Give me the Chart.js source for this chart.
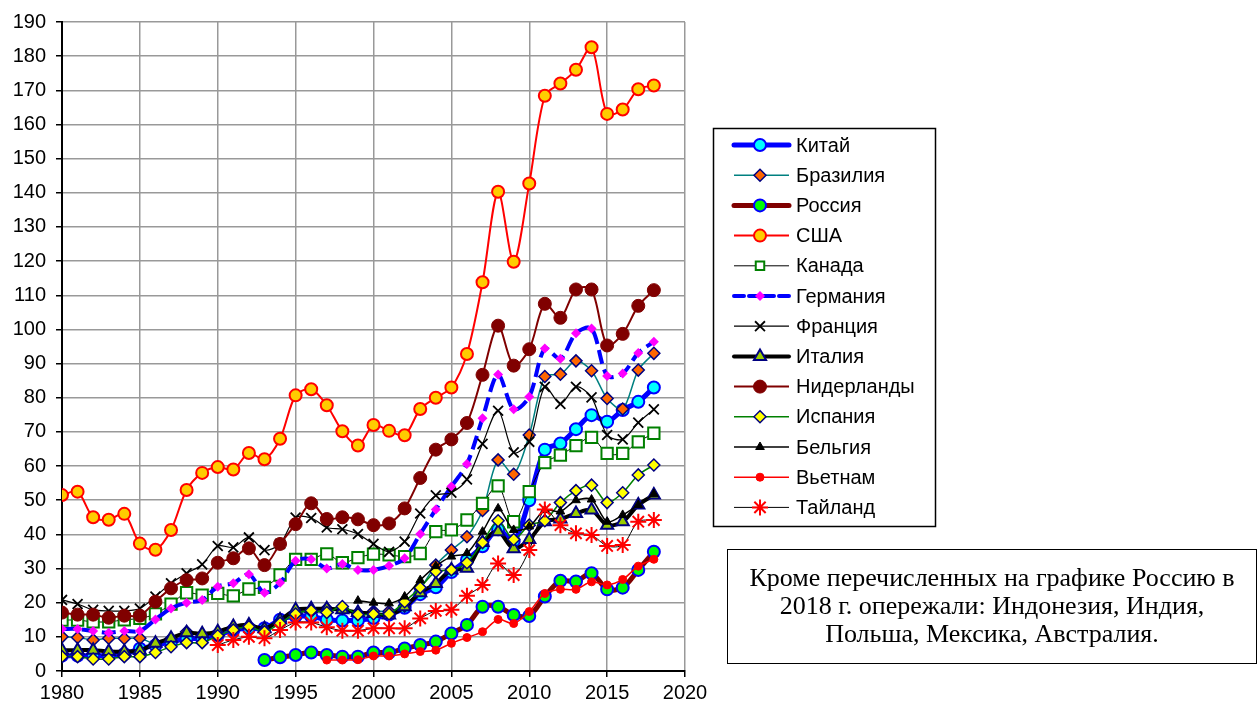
<!DOCTYPE html>
<html lang="ru">
<head>
<meta charset="utf-8">
<title>Страны</title>
<script src="https://cdn.jsdelivr.net/npm/chart.js@4.4.1/dist/chart.umd.min.js"></script>
<style>
  body { margin: 0; background: #fff; }
  #wrap { position: relative; width: 1258px; height: 704px; }
  #note {
    position: absolute; left: 727px; top: 549px; width: 530px; height: 115px;
    border: 1.5px solid #000; box-sizing: border-box; padding-top: 14px;
    font: 26px "Liberation Serif", "Times New Roman", serif; line-height: 28px;
    text-align: center; color: #000; white-space: nowrap;
  }
</style>
</head>
<body>
<div id="wrap">
  <canvas id="grafico" width="1258" height="704"></canvas>
  <div id="note">Кроме перечисленных на графике Россию в<br>2018 г. опережали: Индонезия, Индия,<br>Польша, Мексика, Австралия.</div>
</div>
<script>
const years = [1980, 1981, 1982, 1983, 1984, 1985, 1986, 1987, 1988, 1989,
  1990, 1991, 1992, 1993, 1994, 1995, 1996, 1997, 1998, 1999,
  2000, 2001, 2002, 2003, 2004, 2005, 2006, 2007, 2008, 2009,
  2010, 2011, 2012, 2013, 2014, 2015, 2016, 2017, 2018];

const yTicks = [0, 10, 20, 30, 40, 50, 60, 70, 80, 90, 100, 110, 120, 130, 140, 150, 160, 170, 180, 190];
const xTicks = [1980, 1985, 1990, 1995, 2000, 2005, 2010, 2015, 2020];

const china = [4.5, 4.5, 4.5, 4.5, 5, 6.5, 7.5, 8.5, 9.5, 9.5,
  10.5, 12, 12.5, 12.5, 15, 16, 16, 15, 14.8, 14.8,
  15.5, 16.5, 18.5, 22.5, 24.5, 29, 32.5, 36.5, 41.5, 38,
  50, 64.8, 66.6, 70.8, 74.9, 73, 76.4, 78.8, 83];
const brazil = [10, 9.8, 9.1, 9.6, 9.5, 9.6, 8, 9.5, 11.5, 10.5,
  11, 12.5, 13, 12.3, 14.5, 17, 17.5, 18.3, 18.3, 17,
  17.5, 17.5, 19, 24.1, 31, 35.4, 39.3, 47, 61.8, 57.6,
  69.1, 86.2, 86.9, 90.8, 87.9, 79.8, 76.7, 88.1, 93];
const russia = [null, null, null, null, null, null, null, null, null, null,
  null, null, null, 3.2, 4, 4.7, 5.4, 4.7, 4.2, 4.2,
  5.4, 5.4, 6.6, 7.6, 8.6, 11, 13.5, 18.8, 18.8, 16.4,
  16.1, 21.8, 26.4, 26.2, 28.6, 23.9, 24.4, 29.6, 34.9];
const usa = [51.5, 52.5, 45, 44.3, 46, 37.3, 35.5, 41.3, 53, 58,
  59.7, 59, 63.8, 62, 68, 80.7, 82.5, 77.8, 70.2, 66,
  72, 70.3, 69, 76.7, 80, 83, 92.8, 113.8, 140.3, 119.8,
  142.7, 168.4, 172, 176, 182.6, 163.1, 164.4, 170.3, 171.4];
const canada = [14.9, 14.9, 14.4, 14.4, 15, 15.4, 16.7, 19.6, 22.9, 22.2,
  22.7, 22, 24, 24.5, 28.1, 32.7, 32.7, 34.3, 31.7, 33.2,
  34.2, 34, 33.5, 34.4, 40.8, 41.3, 44.2, 49.1, 54.2, 43.7,
  52.5, 61, 63.2, 66, 68.4, 63.7, 63.7, 67.1, 69.6];
const germany = [12.3, 12.3, 11.7, 11.2, 11.7, 11.7, 15.1, 18.3, 20, 20.8,
  24.7, 25.7, 28.3, 22.9, 25.8, 32.3, 32.7, 30, 31.3, 29.6,
  29.6, 30.8, 33, 40.1, 47.3, 54, 60.6, 74, 86.8, 76.6,
  80.3, 94.4, 91.4, 98.9, 100.3, 86.4, 87.1, 93.1, 96.4];
const france = [20.8, 19.6, 17.9, 17.6, 17.6, 18.3, 21.8, 25.7, 28.6, 31.2,
  36.6, 36.2, 39.1, 35.4, 37.2, 44.9, 44.8, 42, 41.5, 40.1,
  37.2, 34.9, 37.9, 46.1, 51.4, 52.2, 56.1, 66.5, 76.2, 64,
  67.1, 83.2, 78.2, 83.2, 80.1, 69.1, 67.8, 72.7, 76.6];
const italy = [6.1, 6.1, 6.1, 5.7, 5.7, 6, 8.1, 9.6, 11.2, 10.9,
  11.5, 13, 13.5, 12.4, 14.9, 17.9, 18.2, 18.2, 17.9, 17.1,
  16.8, 16.4, 18.8, 22.9, 25.6, 29.6, 30.1, 37.6, 40.8, 35.8,
  38.5, 43.7, 44.5, 46.1, 47.1, 42.7, 43.7, 48.6, 51.5];
const netherlands = [17.1, 16.5, 16.5, 15.6, 16.2, 16.2, 20.3, 24.2, 26.6, 27.1,
  31.7, 33, 35.9, 31, 37.2, 43, 49.1, 44.5, 45, 44.4,
  42.7, 43.2, 47.6, 56.5, 64.8, 67.8, 72.6, 86.7, 101.1, 89.4,
  94.2, 107.5, 103.4, 111.7, 111.7, 95.3, 98.7, 106.9, 111.5];
const spain = [4.2, 4.2, 3.5, 3.5, 4.2, 4.2, 5.4, 7.1, 8.3, 8.3,
  10.3, 12, 13, 11.5, 14, 16.7, 17.7, 17.1, 18.9, 16.5,
  16.7, 16.7, 20.3, 24.4, 29.1, 29.6, 31.7, 37.6, 44, 38.5,
  42.7, 44, 49.3, 52.8, 54.4, 49.3, 52.2, 57.4, 60.3];
const belgium = [null, null, null, null, null, null, null, null, null, null,
  null, null, null, null, null, null, null, null, null, 20.6,
  20, 19.8, 21.8, 26.6, 30.7, 33.5, 34.5, 40.8, 47.6, 41.3,
  42.3, 47.1, 46.7, 50, 50.2, 43.7, 45.7, 48.6, 51.8];
const vietnam = [null, null, null, null, null, null, null, null, null, null,
  null, null, null, null, null, null, null, 3.2, 3.2, 3.3,
  4.4, 4.4, 5, 5.7, 6.1, 8.1, 9.8, 11.5, 15.1, 13.9,
  17.4, 22.7, 23.9, 23.9, 26.1, 25.2, 26.8, 30.7, 32.7];
const thailand = [null, null, null, null, null, null, null, null, null, null,
  7.6, 9.1, 10, 9.6, 12, 14.2, 14.2, 12.8, 11.8, 11.8,
  12.5, 12.5, 12.5, 15.4, 17.6, 17.9, 22, 25.2, 31.5, 28.1,
  35.4, 47.3, 42.7, 40.3, 39.8, 36.6, 36.9, 43.7, 44.2];

const toPoints = (vals) => years.map((x, i) => ({ x: x, y: vals[i] }));

// estilo de cada serie (como en el gráfico original)
const series = [
  { label: "Китай", data: china, line: "#0000FF", width: 5, style: "circle", r: 6, fill: "#00FFFF", stroke: "#0000FF", bw: 2 },
  { label: "Бразилия", data: brazil, line: "#008080", width: 1.5, style: "rectRot", r: 6, fill: "#FF6600", stroke: "#000080", bw: 1.5 },
  { label: "Россия", data: russia, line: "#800000", width: 5, style: "circle", r: 6, fill: "#00FF00", stroke: "#0000FF", bw: 2 },
  { label: "США", data: usa, line: "#FF0000", width: 2, style: "circle", r: 6, fill: "#FFCC00", stroke: "#FF0000", bw: 2 },
  { label: "Канада", data: canada, line: "#000000", width: 1, style: "rect", r: 8, fill: "#FFFFFF", stroke: "#008000", bw: 2 },
  { label: "Германия", data: germany, line: "#0000FF", width: 4, dash: [14, 6], style: "rectRot", r: 5, fill: "#FF00FF", stroke: "#FF00FF", bw: 0 },
  { label: "Франция", data: france, line: "#000000", width: 1.2, style: "crossRot", r: 7, fill: "#000000", stroke: "#000000", bw: 1.8 },
  { label: "Италия", data: italy, line: "#000000", width: 4, style: "triangle", r: 7, fill: "#99CC00", stroke: "#000080", bw: 2 },
  { label: "Нидерланды", data: netherlands, line: "#800000", width: 2, style: "circle", r: 6.5, fill: "#800000", stroke: "#800000", bw: 1 },
  { label: "Испания", data: spain, line: "#008000", width: 1.5, style: "rectRot", r: 6, fill: "#FFFF00", stroke: "#000080", bw: 1.5 },
  { label: "Бельгия", data: belgium, line: "#000000", width: 1.5, style: "triangle", r: 5, fill: "#000000", stroke: "#000000", bw: 1 },
  { label: "Вьетнам", data: vietnam, line: "#FF0000", width: 1.5, style: "circle", r: 4, fill: "#FF0000", stroke: "#FF0000", bw: 1 },
  { label: "Тайланд", data: thailand, line: "#000000", width: 1, style: "star", r: 8, fill: "#FF0000", stroke: "#FF0000", bw: 2 }
];

const datasets = series.map((s, i) => ({
  label: s.label,
  data: toPoints(s.data),
  borderColor: s.line,
  borderWidth: s.width,
  borderDash: s.dash || [],
  pointStyle: s.style,
  pointRadius: s.r,
  pointBackgroundColor: s.fill,
  pointBorderColor: s.stroke,
  pointBorderWidth: s.bw,
  tension: 0.3,
  order: -i
}));

// leyenda lateral con línea + marcador
const sideLegend = {
  id: "sideLegend",
  afterDraw(chart) {
    const ctx = chart.ctx;
    ctx.save();
    ctx.strokeStyle = "#000";
    ctx.lineWidth = 1.5;
    ctx.setLineDash([]);
    ctx.strokeRect(713.5, 128.5, 222, 398);
    series.forEach((s, i) => {
      const y = 145 + i * 30.2;
      ctx.beginPath();
      ctx.setLineDash(s.dash ? [10, 5] : []);
      ctx.strokeStyle = s.line;
      ctx.lineWidth = s.width;
      ctx.lineCap = s.width >= 4 ? "round" : "butt";
      ctx.moveTo(734, y);
      ctx.lineTo(789, y);
      ctx.stroke();
      ctx.setLineDash([]);
      ctx.fillStyle = s.fill;
      ctx.strokeStyle = s.stroke;
      ctx.lineWidth = s.bw;
      const r = s.style === "rect" ? 6 : s.r;
      Chart.helpers.drawPoint(ctx, { pointStyle: s.style, radius: r, borderWidth: s.bw, rotation: 0 }, 760, y);
      ctx.fillStyle = "#000";
      ctx.font = "20px Arial, 'Liberation Sans', sans-serif";
      ctx.textAlign = "left";
      ctx.textBaseline = "middle";
      ctx.fillText(s.label, 796, y + 1);
    });
    ctx.restore();
  }
};

const ctx = document.getElementById("grafico").getContext("2d");
new Chart(ctx, {
  type: "line",
  data: { datasets: datasets },
  plugins: [sideLegend],
  options: {
    responsive: false,
    animation: false,
    layout: { padding: { left: 0, top: 22, right: 573, bottom: 0 } },
    plugins: { legend: { display: false }, tooltip: { enabled: false } },
    scales: {
      x: {
        type: "linear",
        min: 1980,
        max: 2020,
        afterFit: (scale) => { scale.height = 33; },
        afterBuildTicks: (scale) => { scale.ticks = xTicks.map((v) => ({ value: v })); },
        ticks: { color: "#000", font: { family: "Arial", size: 20 }, padding: 4, maxRotation: 0, callback: (v) => String(v) },
        grid: { color: "#999999", lineWidth: 1.5, tickLength: 6, tickColor: "#000" },
        border: { display: true, color: "#000", width: 2 }
      },
      y: {
        min: 0,
        max: 190,
        afterFit: (scale) => { scale.width = 62; },
        afterBuildTicks: (scale) => { scale.ticks = yTicks.map((v) => ({ value: v })); },
        ticks: { color: "#000", font: { family: "Arial", size: 20 }, padding: 10 },
        grid: { color: "#999999", lineWidth: 1.5, tickLength: 6, tickColor: "#000" },
        border: { display: true, color: "#000", width: 2 }
      }
    }
  }
});
</script>
</body>
</html>
